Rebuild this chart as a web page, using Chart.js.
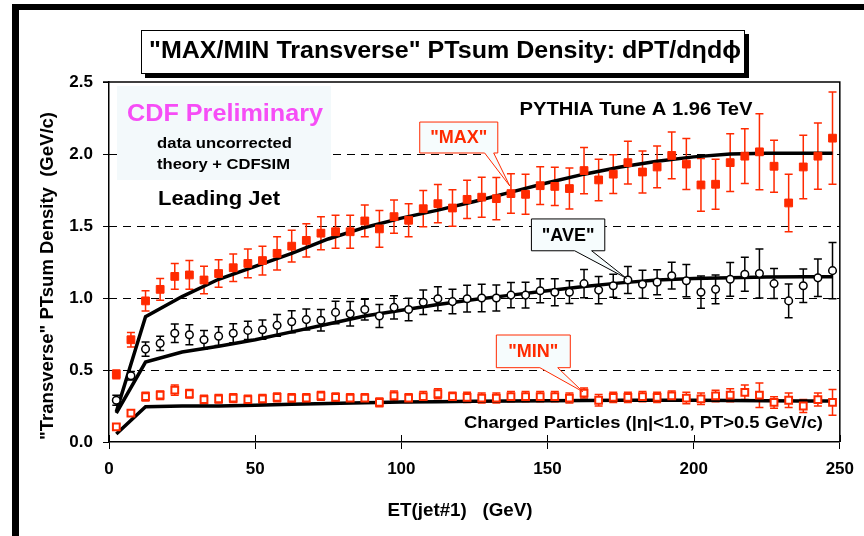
<!DOCTYPE html>
<html lang="en">
  <head>
    <meta charset="UTF-8" />
    <title>MAX/MIN Transverse PTsum Density</title>
    <script src="https://cdn.jsdelivr.net/npm/chart.js@4"></script>
    <style>
      html,
      body {
        margin: 0;
        padding: 0;
        background: #fff;
      }
    </style>
  </head>
  <body>
    <canvas id="ptsumChart" width="864" height="536"></canvas>

    <script>
      // ET(jet#1) bin centres (GeV)
      const etBins = [
        2.5, 7.5, 12.5, 17.5, 22.5, 27.5, 32.5, 37.5, 42.5, 47.5, 52.5, 57.5,
        62.5, 67.5, 72.5, 77.5, 82.5, 87.5, 92.5, 97.5, 102.5, 107.5, 112.5,
        117.5, 122.5, 127.5, 132.5, 137.5, 142.5, 147.5, 152.5, 157.5, 162.5,
        167.5, 172.5, 177.5, 182.5, 187.5, 192.5, 197.5, 202.5, 207.5, 212.5,
        217.5, 222.5, 227.5, 232.5, 237.5, 242.5, 247.5,
      ];

      // "MAX" data (filled red squares) and errors
      const maxData = [
        0.47, 0.71, 0.98, 1.06, 1.15, 1.16, 1.125, 1.17, 1.21, 1.24, 1.26, 1.31,
        1.36, 1.4, 1.45, 1.46, 1.46, 1.535, 1.48, 1.565, 1.54, 1.62, 1.655,
        1.625, 1.685, 1.7, 1.69, 1.725, 1.72, 1.78, 1.775, 1.76, 1.885, 1.82,
        1.86, 1.94, 1.875, 1.91, 1.99, 1.93, 1.785, 1.79, 1.94, 1.985, 2.015,
        1.915, 1.66, 1.91, 1.985, 2.11,
      ];
      const maxErr = [
        0.03, 0.05, 0.07, 0.075, 0.09, 0.1, 0.095, 0.095, 0.095, 0.1, 0.1, 0.115,
        0.11, 0.115, 0.115, 0.115, 0.115, 0.11, 0.127, 0.115, 0.115, 0.126,
        0.133, 0.127, 0.133, 0.139, 0.146, 0.137, 0.139, 0.131, 0.133, 0.142,
        0.161, 0.144, 0.135, 0.148, 0.145, 0.145, 0.162, 0.177, 0.183, 0.174,
        0.2, 0.19, 0.264, 0.18, 0.2, 0.22, 0.23, 0.32,
      ];

      // "AVE" data (open black circles) and errors
      const aveData = [
        0.29, 0.46, 0.645, 0.685, 0.755, 0.745, 0.71, 0.735, 0.755, 0.775, 0.78,
        0.81, 0.835, 0.85, 0.845, 0.9, 0.89, 0.92, 0.875, 0.935, 0.92, 0.97,
        0.995, 0.975, 0.995, 1.0, 1.0, 1.02, 1.02, 1.05, 1.04, 1.04, 1.1, 1.055,
        1.085, 1.125, 1.095, 1.11, 1.155, 1.12, 1.04, 1.06, 1.13, 1.165, 1.17,
        1.1, 0.98, 1.085, 1.14, 1.19,
      ];
      const aveErr = [
        0.035, 0.03, 0.05, 0.05, 0.064, 0.07, 0.065, 0.065, 0.066, 0.064, 0.067,
        0.075, 0.076, 0.073, 0.075, 0.078, 0.085, 0.072, 0.079, 0.08, 0.078,
        0.085, 0.083, 0.085, 0.093, 0.095, 0.09, 0.088, 0.09, 0.083, 0.093,
        0.079, 0.098, 0.095, 0.08, 0.093, 0.097, 0.087, 0.093, 0.112, 0.112, 0.1,
        0.117, 0.118, 0.17, 0.104, 0.118, 0.116, 0.13, 0.195,
      ];

      // "MIN" data (open red squares) and errors
      const minData = [
        0.105, 0.2, 0.315, 0.325, 0.36, 0.335, 0.295, 0.3, 0.305, 0.295, 0.3,
        0.31, 0.305, 0.305, 0.32, 0.31, 0.305, 0.305, 0.275, 0.32, 0.305, 0.315,
        0.335, 0.315, 0.31, 0.305, 0.305, 0.315, 0.315, 0.315, 0.315, 0.305,
        0.34, 0.29, 0.31, 0.31, 0.315, 0.31, 0.32, 0.305, 0.3, 0.32, 0.325,
        0.345, 0.325, 0.275, 0.29, 0.25, 0.295, 0.275,
      ];
      const minErr = [
        0.02, 0.02, 0.03, 0.03, 0.035, 0.03, 0.03, 0.03, 0.03, 0.03, 0.03, 0.03,
        0.03, 0.03, 0.03, 0.03, 0.03, 0.03, 0.03, 0.035, 0.03, 0.035, 0.035,
        0.03, 0.035, 0.035, 0.035, 0.035, 0.035, 0.035, 0.035, 0.035, 0.035,
        0.04, 0.035, 0.035, 0.035, 0.035, 0.035, 0.04, 0.04, 0.04, 0.045, 0.05,
        0.085, 0.04, 0.05, 0.045, 0.045, 0.09,
      ];

      // PYTHIA Tune A + CDFSIM curves
      const theoryEt = [
        2.5, 12.5, 25, 37.5, 50, 62.5, 75, 87.5, 100, 112.5, 125, 137.5, 150,
        162.5, 175, 187.5, 200, 212.5, 225, 237.5, 247.5,
      ];
      const theoryMax = [
        0.21, 0.87, 1.01, 1.13, 1.22, 1.31, 1.41, 1.49, 1.555, 1.61, 1.67, 1.735,
        1.8, 1.86, 1.91, 1.95, 1.98, 2.0, 2.005, 2.005, 2.005,
      ];
      const theoryAve = [
        0.2, 0.555, 0.625, 0.665, 0.71, 0.765, 0.82, 0.875, 0.915, 0.955, 0.99,
        1.02, 1.05, 1.08, 1.105, 1.125, 1.135, 1.14, 1.145, 1.148, 1.148,
      ];
      const theoryMin = [
        0.055, 0.245, 0.25, 0.25, 0.255, 0.262, 0.268, 0.273, 0.278, 0.28, 0.283,
        0.285, 0.287, 0.288, 0.29, 0.29, 0.29, 0.288, 0.287, 0.285, 0.285,
      ];

      const xTicks = [0, 50, 100, 150, 200, 250];
      const yTicks = [0, 0.5, 1.0, 1.5, 2.0, 2.5];
      const yDashed = [0.5, 1.0, 1.5, 2.0];

      const RED = "#ff2a00";
      const FONT = '"Liberation Sans", Arial, sans-serif';

      // callout boxes, in data units
      const callouts = [
        { text: '"MAX"', color: RED, box: [106.3, 133.0, 2.222, 2.007], base: [128.5, 131.6], tip: [137.1, 1.778] },
        { text: '"AVE"', color: "#000", box: [144.5, 169.6, 1.549, 1.328], base: [159.3, 165.1], tip: [177.0, 1.137] },
        { text: '"MIN"', color: RED, box: [132.5, 157.8, 0.743, 0.516], base: [147.4, 153.5], tip: [162.1, 0.349] },
      ];

      const pts = (xs, ys) => xs.map((x, i) => ({ x: x, y: ys[i] }));

      function drawErrors(ctx, xs, ys, vals, errs, color) {
        ctx.strokeStyle = color;
        ctx.lineWidth = 1.5;
        etBins.forEach((et, i) => {
          const px = xs.getPixelForValue(et);
          const lo = ys.getPixelForValue(vals[i] - errs[i]);
          const hi = ys.getPixelForValue(vals[i] + errs[i]);
          ctx.beginPath();
          ctx.moveTo(px, lo);
          ctx.lineTo(px, hi);
          ctx.moveTo(px - 4, lo);
          ctx.lineTo(px + 4, lo);
          ctx.moveTo(px - 4, hi);
          ctx.lineTo(px + 4, hi);
          ctx.stroke();
        });
      }

      // bold text, optionally stretched to a given width
      function text(ctx, str, x, y, size, color, align, width) {
        ctx.save();
        ctx.font = "bold " + size + "px " + FONT;
        ctx.fillStyle = color;
        ctx.textAlign = align || "center";
        ctx.textBaseline = "middle";
        ctx.translate(x, y);
        if (width) ctx.scale(width / ctx.measureText(str).width, 1);
        ctx.fillText(str, 0, 0);
        ctx.restore();
      }

      const decor = {
        id: "decor",
        beforeDatasetsDraw(chart) {
          const { ctx, chartArea: a, scales } = chart;
          ctx.save();
          // dashed grid lines
          ctx.strokeStyle = "#000";
          ctx.lineWidth = 1;
          ctx.setLineDash([8, 6]);
          yDashed.forEach((v) => {
            const py = Math.round(scales.y.getPixelForValue(v)) + 0.5;
            ctx.beginPath();
            ctx.moveTo(a.left, py);
            ctx.lineTo(a.right, py);
            ctx.stroke();
          });
          ctx.setLineDash([]);
          // light panel behind "CDF Preliminary"
          ctx.fillStyle = "#f3f9fb";
          ctx.fillRect(117, 86, 214, 94);
          drawErrors(ctx, scales.x, scales.y, minData, minErr, RED);
          drawErrors(ctx, scales.x, scales.y, aveData, aveErr, "#000");
          drawErrors(ctx, scales.x, scales.y, maxData, maxErr, RED);
          ctx.restore();
        },
        afterDatasetsDraw(chart) {
          const { ctx, chartArea: a, scales } = chart;
          const xs = scales.x, ys = scales.y;
          ctx.save();
          // frame of the plot
          ctx.strokeStyle = "#000";
          ctx.lineWidth = 1.5;
          ctx.beginPath();
          ctx.moveTo(a.left - 6, a.top);
          ctx.lineTo(a.right, a.top);
          ctx.lineTo(a.right, a.bottom);
          ctx.stroke();
          // inner half of x ticks
          ctx.lineWidth = 1;
          xTicks.forEach((v) => {
            const px = Math.round(xs.getPixelForValue(v)) + 0.5;
            ctx.beginPath();
            ctx.moveTo(px, a.bottom);
            ctx.lineTo(px, a.bottom - 7);
            ctx.stroke();
          });

          // callouts
          callouts.forEach((c) => {
            const L = xs.getPixelForValue(c.box[0]), R = xs.getPixelForValue(c.box[1]);
            const T = ys.getPixelForValue(c.box[2]), B = ys.getPixelForValue(c.box[3]);
            const b1 = xs.getPixelForValue(c.base[0]), b2 = xs.getPixelForValue(c.base[1]);
            const tx = xs.getPixelForValue(c.tip[0]), ty = ys.getPixelForValue(c.tip[1]);
            ctx.beginPath();
            ctx.moveTo(b1, B);
            ctx.lineTo(L, B);
            ctx.lineTo(L, T);
            ctx.lineTo(R, T);
            ctx.lineTo(R, B);
            ctx.lineTo(b2, B);
            ctx.lineTo(tx, ty);
            ctx.closePath();
            ctx.fillStyle = "#f6fcfd";
            ctx.fill();
            ctx.strokeStyle = c.color;
            ctx.lineWidth = 1;
            ctx.stroke();
            text(ctx, c.text, (L + R) / 2, (T + B) / 2 + 1, 18, c.color);
          });

          // labels inside the plot
          text(ctx, "CDF Preliminary", 225, 115, 23, "#f64df6", "center", 196);
          text(ctx, "data uncorrected", 157, 144, 15, "#000", "left", 135);
          text(ctx, "theory + CDFSIM", 157, 165, 15, "#000", "left", 133);
          text(ctx, "Leading Jet", 158, 199, 20, "#000", "left", 122);
          text(ctx, "PYTHIA Tune A 1.96 TeV", 636, 110, 19, "#000", "center", 233);
          text(ctx, "Charged Particles (|\u03b7|<1.0, PT>0.5 GeV/c)", 823, 423, 17, "#000", "right", 359);

          // axis titles
          text(ctx, "ET(jet#1)   (GeV)", 460, 511, 18, "#000", "center", 145);
          ctx.save();
          ctx.translate(48, 276);
          ctx.rotate(-Math.PI / 2);
          text(ctx, '"Transverse" PTsum Density  (GeV/c)', 0, 0, 18, "#000", "center", 328);
          ctx.restore();

          // outer frame
          ctx.fillStyle = "#000";
          ctx.fillRect(12, 4, 852, 6);
          ctx.fillRect(12, 4, 7, 532);

          // title box with shadow
          ctx.fillRect(145, 34, 604, 44);
          ctx.fillStyle = "#fff";
          ctx.fillRect(141, 30, 604, 44);
          ctx.strokeStyle = "#000";
          ctx.lineWidth = 1;
          ctx.strokeRect(141.5, 30.5, 603, 43);
          text(ctx, '"MAX/MIN Transverse" PTsum Density: dPT/d\u03b7d\u03d5', 445, 52, 23, "#000", "center", 592);
          ctx.restore();
        },
      };

      const ctx = document.getElementById("ptsumChart").getContext("2d");
      const chart = new Chart(ctx, {
        type: "scatter",
        data: {
          datasets: [
            { label: "MAX theory", data: pts(theoryEt, theoryMax), showLine: true, borderColor: "#000", borderWidth: 3.5, pointRadius: 0, order: 2 },
            { label: "AVE theory", data: pts(theoryEt, theoryAve), showLine: true, borderColor: "#000", borderWidth: 3.5, pointRadius: 0, order: 2 },
            { label: "MIN theory", data: pts(theoryEt, theoryMin), showLine: true, borderColor: "#000", borderWidth: 3.5, pointRadius: 0, order: 2 },
            { label: "MIN", data: pts(etBins, minData), pointStyle: "rect", pointRadius: 4.8, borderWidth: 2, borderColor: RED, backgroundColor: "#fff", order: 1 },
            { label: "AVE", data: pts(etBins, aveData), pointStyle: "circle", pointRadius: 3.8, borderWidth: 1.5, borderColor: "#000", backgroundColor: "#fff", order: 1 },
            { label: "MAX", data: pts(etBins, maxData), pointStyle: "rect", pointRadius: 5.5, borderWidth: 1, borderColor: RED, backgroundColor: RED, order: 1 },
          ],
        },
        options: {
          responsive: false,
          animation: false,
          devicePixelRatio: 1,
          layout: { padding: { left: 0, right: 24, top: 82, bottom: 0 } },
          plugins: { legend: { display: false }, tooltip: { enabled: false } },
          scales: {
            x: {
              type: "linear",
              min: 0,
              max: 250,
              afterBuildTicks: (s) => { s.ticks = xTicks.map((v) => ({ value: v })); },
              afterFit: (s) => { s.height = 94; },
              grid: { drawOnChartArea: false, tickLength: 7, color: "#000", lineWidth: 1 },
              border: { color: "#000", width: 1.5 },
              ticks: { color: "#000", padding: 10, maxRotation: 0, font: { family: FONT, size: 17, weight: "bold" } },
            },
            y: {
              type: "linear",
              min: 0,
              max: 2.5,
              afterBuildTicks: (s) => { s.ticks = yTicks.map((v) => ({ value: v })); },
              afterFit: (s) => { s.width = 109; },
              grid: { drawOnChartArea: false, tickLength: 6, color: "#000", lineWidth: 1 },
              border: { color: "#000", width: 1.5 },
              ticks: { color: "#000", padding: 10, font: { family: FONT, size: 17, weight: "bold" }, callback: (v) => v.toFixed(1) },
            },
          },
        },
        plugins: [decor],
      });
    </script>
  </body>
</html>
